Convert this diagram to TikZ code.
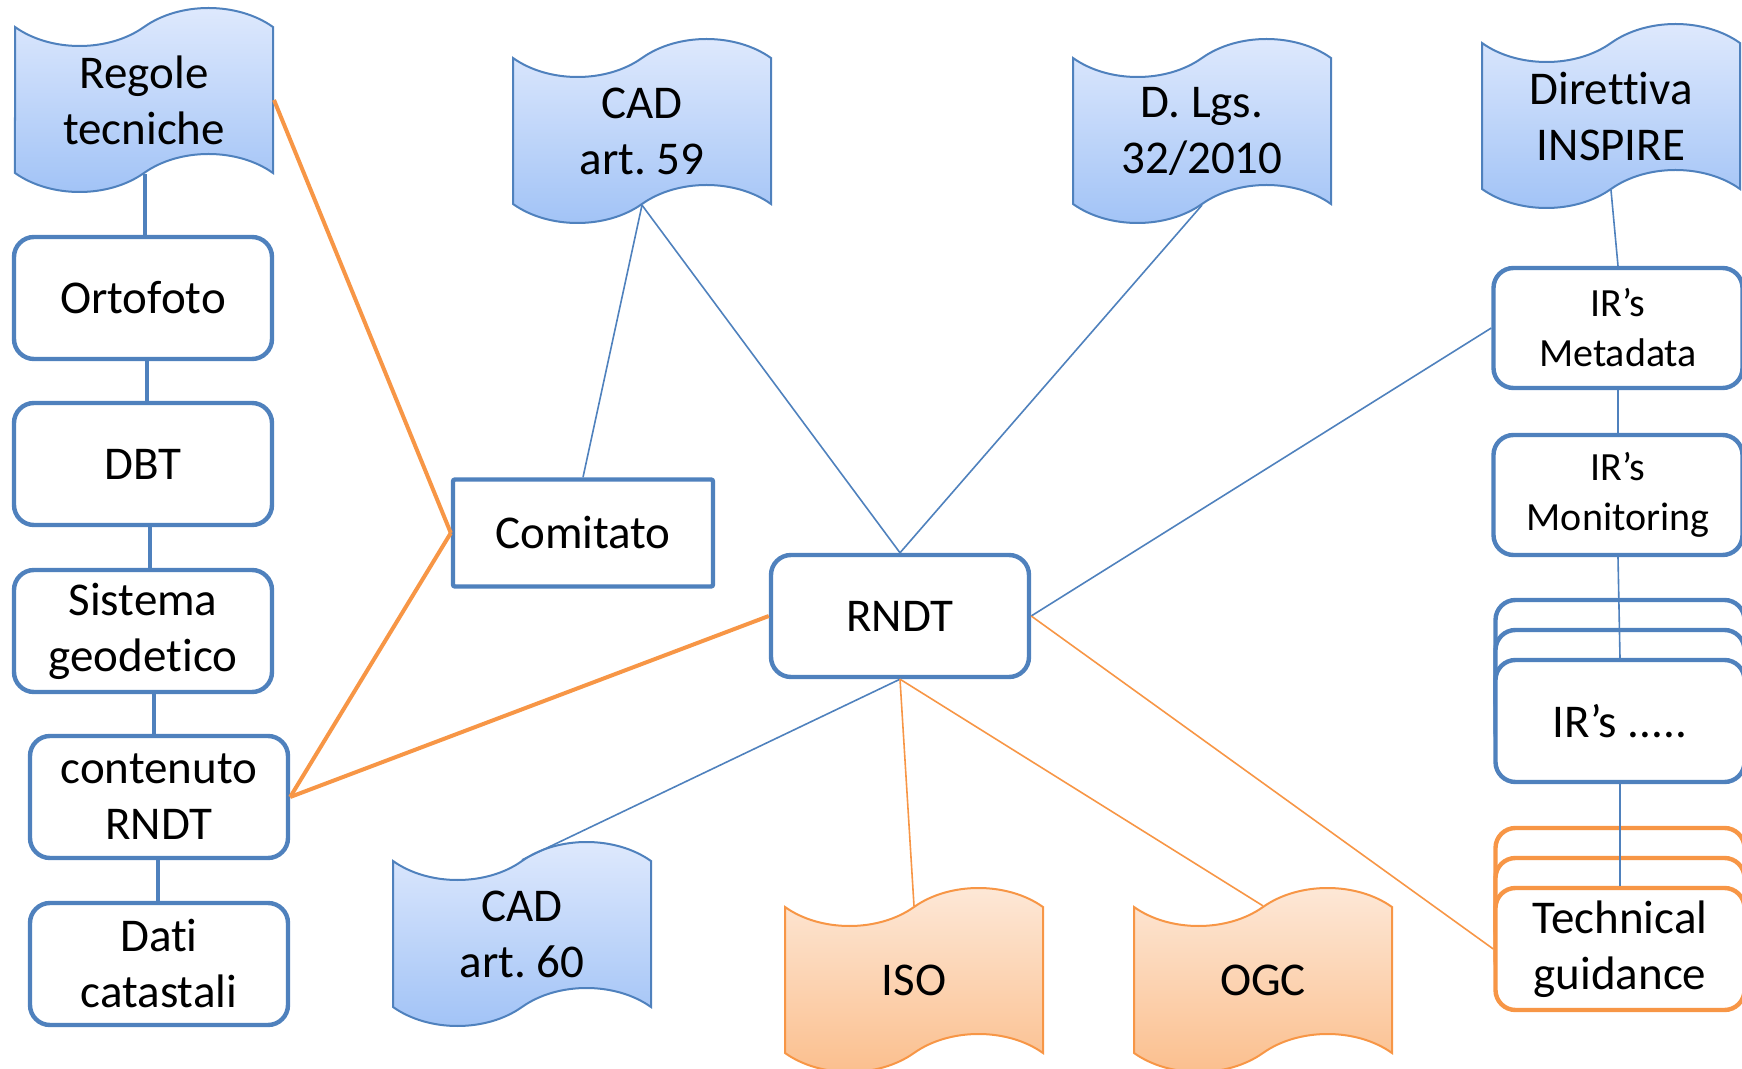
\documentclass[tikz,border=0pt]{standalone}
\usepackage{fontspec}
\setmainfont{Carlito}[Ligatures=NoCommon]
\usetikzlibrary{shapes.symbols,shadows}
\definecolor{rblue}{RGB}{79,129,189}
\definecolor{rorange}{RGB}{247,150,70}
\definecolor{ftop}{RGB}{224,234,253}
\definecolor{fbot}{RGB}{160,194,246}
\definecolor{oftop}{RGB}{253,233,217}
\definecolor{ofbot}{RGB}{251,190,140}
\begin{document}
\begin{tikzpicture}[x=0.5pt,y=-0.5pt,%
% common options for the boxes:
box/.style = {rectangle, rounded corners=10pt, draw=rblue, line width=2.2pt, fill=white,
            align=center, minimum width=129pt, minimum height=61pt, inner sep=0,
            font=\fontsize{23.5}{28}\selectfont},
irbox/.style = {box, minimum width=124.5pt, minimum height=60pt,
            font=\fontsize{20}{25}\selectfont},
% common options for the stacked boxes:
stack/.style = {box, minimum width=124.5pt, draw=#1,
            copy shadow={shadow xshift=0pt, shadow yshift=30pt, draw=#1, fill=white, line width=2.2pt},
            copy shadow={shadow xshift=0pt, shadow yshift=15pt, draw=#1, fill=white, line width=2.2pt}},
% common options for the flags:
flag/.style = {tape, draw=rblue, line width=1pt, top color=ftop, bottom color=fbot,
            align=center, minimum width=129pt, minimum height=92pt, tape bend height=19pt,
            inner sep=0, font=\fontsize{23.5}{28}\selectfont},
oflag/.style = {flag, draw=rorange, top color=oftop, bottom color=ofbot},
% common options for the links:
blink/.style = {draw=rblue, line width=0.8pt},
bwide/.style = {draw=rblue, line width=2pt},
olink/.style = {draw=rorange, line width=0.8pt},
owide/.style = {draw=rorange, line width=2pt}]
\useasboundingbox (0,0) rectangle (1742,1069);
\clip (0,0) rectangle (1742,1069);
% left column
\node[flag] (regole) at (144,100) {Regole\\tecniche};
\node[box] (orto) at (143,298) {Ortofoto};
\node[box] (dbt) at (143,464) {DBT};
\node[box] (geod) at (143,631) {Sistema\\geodetico};
\node[box] (cont) at (159,797) {contenuto\\RNDT};
\node[box] (catasto) at (159,964) {Dati\\catastali};
% middle
\node[box, rounded corners=1pt, minimum width=130pt, minimum height=53.5pt] (comitato) at (583,533) {Comitato};
\node[box] (rndt) at (900,616) {RNDT};
\node[flag] (cad59) at (642,131) {CAD\\art.\ 59};
\node[flag] (dlgs) at (1202,131) {D.\ Lgs.\\32/2010};
\node[flag] (cad60) at (522,934) {CAD\\art.\ 60};
\node[oflag] (iso) at (914,980) {ISO};
\node[oflag] (ogc) at (1263,980) {OGC};
% right column
\node[flag] (inspire) at (1611,116) {Direttiva\\INSPIRE};
\node[irbox] (irmeta) at (1618,328) {IR’s\\Metadata};
\node[irbox] (irmon) at (1618,495) {IR’s\\Monitoring};
\node[stack=rblue] (irmore) at (1620,721) {IR’s .....};
\node[stack=rorange] (guide) at (1620,949) {Technical\\guidance};
% links
\draw[bwide] ([xshift=0.5pt]regole.south) to ([xshift=1pt]orto.north);
\draw[bwide] ([xshift=2pt]orto.south) to ([xshift=2pt]dbt.north);
\draw[bwide] ([xshift=3.5pt]dbt.south) to ([xshift=3.5pt]geod.north);
\draw[bwide] ([xshift=5.5pt]geod.south) to ([xshift=-2.5pt]cont.north);
\draw[bwide] ([xshift=-0.5pt]cont.south) to ([xshift=-0.5pt]catasto.north);
\draw[owide] (comitato.west) to (regole.east);
\draw[owide] (comitato.west) to (cont.east);
\draw[owide] (rndt.west) to (cont.east);
\draw[blink] (comitato.north) to (cad59.south);
\draw[blink] (rndt.north) to (cad59.south);
\draw[blink] (rndt.north) to (dlgs.south);
\draw[blink] (rndt.east) to (irmeta.west);
\draw[olink] (rndt.east) to (guide.west);
\draw[blink] (rndt.south) to (cad60.north);
\draw[olink] (rndt.south) to (iso.north);
\draw[olink] (rndt.south) to (ogc.north);
\draw[blink] (inspire.south) to (irmeta.north);
\draw[blink] (irmeta.south) to (irmon.north);
\draw[blink] (irmon.south) to (irmore.north);
\draw[blink] (irmore.south) to (guide.north);
\end{tikzpicture}
\end{document}
